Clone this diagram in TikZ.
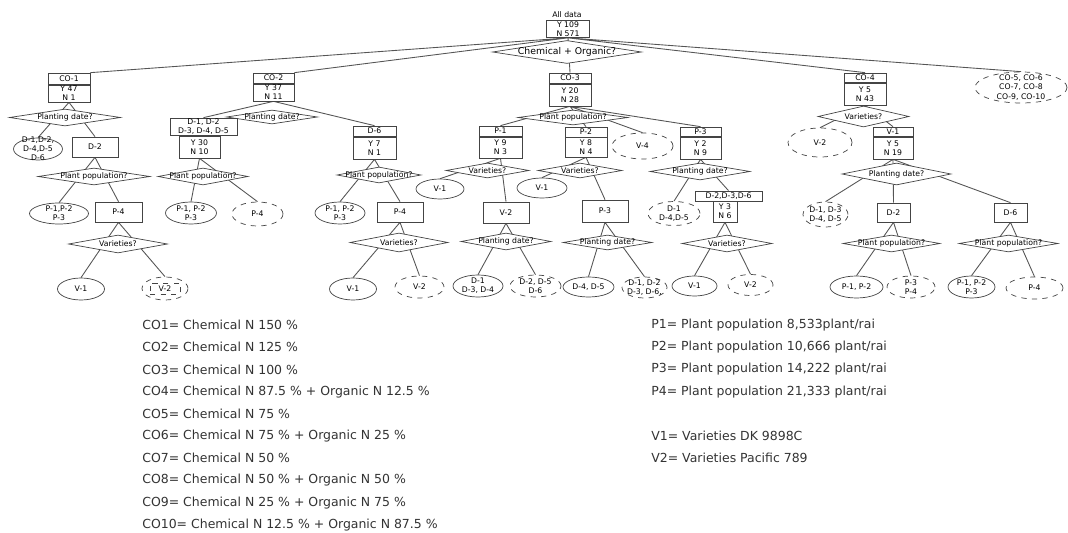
\documentclass[tikz,border=0pt]{standalone}
\usepackage{fontspec}
\usepackage{tikz}
\usetikzlibrary{shapes.geometric}
\newfontfamily\treefont{DejaVu Sans}
\newfontfamily\legfont{DejaVu Sans}
\newcommand{\tf}{\treefont\fontsize{4.4pt}{5.2pt}\selectfont}
\newcommand{\qf}{\treefont\fontsize{5.3pt}{6pt}\selectfont}
\newcommand{\lf}{\legfont\fontsize{7.1pt}{8.5pt}\selectfont}
\definecolor{edgegray}{HTML}{555555}
\definecolor{boxgray}{HTML}{444444}
\definecolor{legtext}{HTML}{333333}
\pgfdeclarelayer{background}
\pgfsetlayers{background,main}
\tikzset{
  tag/.style 2 args={rectangle,draw=boxgray,fill=white,minimum width=#1*0.02cm,minimum height=#2*0.02cm,inner sep=0pt,font=\tf,align=center},
  ask/.style 2 args={diamond,draw=boxgray,fill=white,minimum width=#1*0.02cm,minimum height=#2*0.02cm,inner sep=0pt},
  leaf/.style 2 args={ellipse,draw=boxgray,fill=white,minimum width=#1*0.02cm,minimum height=#2*0.02cm,inner sep=0pt},
  pruned/.style 2 args={leaf={#1}{#2},dashed},
  link/.style={draw=edgegray,line width=0.5pt},
  key/.style={anchor=west,inner sep=0pt,font=\lf,text=legtext},
  every label/.style={font=\tf,align=center,inner sep=0pt,solid}
}

\begin{document}
\begin{tikzpicture}[x=0.02cm,y=-0.02cm]
  \useasboundingbox (0,0) rectangle (1068,533);

  % root
  \node[font=\tf] (alldata) at (567,15) {All data};
  \node[tag={43}{17}] (root) at (568,29) {Y 109\\N 571};
  \node[ask={149}{23},label={[font=\qf]center:Chemical + Organic?}] (qroot) at (567,52) {};

  % CO-1
  \node[tag={42}{11}] (co1) at (69,78.5) {CO-1};
  \node[tag={42}{17}] (co1n) at (69,93.5) {Y 47\\N 1};
  \node[ask={111}{17},label=center:Planting date?] (co1q) at (65,117.5) {};
  \node[leaf={49}{22},label={center:D-1,D-2,\\D-4,D-5\\D-6}] (co1d) at (38,149) {};
  \node[tag={46}{20}] (co1d2) at (95,147) {D-2};
  \node[ask={112}{17},label=center:Plant population?] (co1d2q) at (94,176.5) {};
  \node[leaf={59}{21},label={center:P-1,P-2\\P-3}] (co1p) at (59,213.5) {};
  \node[tag={47}{20}] (co1p4) at (118.5,212) {P-4};
  \node[ask={99}{18},label=center:Varieties?] (co1p4q) at (118,244) {};
  \node[leaf={47}{22},label=center:V-1] (co1v1) at (81,289) {};
  \node[pruned={46}{23},label={[draw=boxgray,dashed,minimum width=30*0.02cm,minimum height=11*0.02cm]center:V-2}] (co1v2) at (165,288.5) {};

  % CO-2
  \node[tag={41}{10}] (co2) at (273.5,78) {CO-2};
  \node[tag={41}{17}] (co2n) at (273.5,92.5) {Y 37\\N 11};
  \node[ask={91}{14},label=center:Planting date?] (co2q) at (272,117) {};
  \node[tag={67}{17}] (co2d) at (203.5,126.5) {D-1, D-2\\D-3, D-4, D-5};
  \node[tag={41}{22}] (co2dn) at (199.5,147) {Y 30\\N 10};
  \node[ask={90}{17},label=center:Plant population?] (co2dq) at (203,176.5) {};
  \node[leaf={51}{22},label={center:P-1, P-2\\P-3}] (co2dp) at (191,213) {};
  \node[pruned={51}{24},label=center:P-4] (co2dp4) at (257.5,214) {};
  \node[tag={43}{10}] (co2d6) at (374.5,131) {D-6};
  \node[tag={43}{22}] (co2d6n) at (374.5,148) {Y 7\\N 1};
  \node[ask={84}{16},label=center:Plant population?] (co2d6q) at (379,175) {};
  \node[leaf={50}{22},label={center:P-1, P-2\\P-3}] (co2d6p) at (340,213) {};
  \node[tag={46}{20}] (co2d6p4) at (400,212) {P-4};
  \node[ask={98}{19},label=center:Varieties?] (co2d6p4q) at (399,242.5) {};
  \node[leaf={47}{22},label=center:V-1] (co2d6v1) at (353,289) {};
  \node[pruned={49}{22},label=center:V-2] (co2d6v2) at (419.5,287) {};

  % CO-3
  \node[tag={42}{10}] (co3) at (570,78) {CO-3};
  \node[tag={42}{22}] (co3n) at (570,95) {Y 20\\N 28};
  \node[ask={110}{15},label=center:Plant population?] (co3q) at (573,117.5) {};
  \node[tag={43}{10}] (co3p1) at (500.5,131) {P-1};
  \node[tag={43}{21}] (co3p1n) at (500.5,147.5) {Y 9\\N 3};
  \node[ask={83}{15},label=center:Varieties?] (co3p1q) at (487.5,170.5) {};
  \node[leaf={48}{20},label=center:V-1] (co3p1v1) at (440,189) {};
  \node[tag={46}{21}] (co3p1v2) at (506,212.5) {V-2};
  \node[ask={90}{17},label=center:Planting date?] (co3p1v2q) at (506,241.5) {};
  \node[leaf={50}{22},label={center:D-1\\D-3, D-4}] (co3p1d) at (478,286) {};
  \node[pruned={51}{22},label={center:D-2, D-5\\D-6}] (co3p1dx) at (535.5,286) {};
  \node[tag={42}{10}] (co3p2) at (586,132) {P-2};
  \node[tag={42}{20}] (co3p2n) at (586,147) {Y 8\\N 4};
  \node[ask={84}{15},label=center:Varieties?] (co3p2q) at (580,170.5) {};
  \node[leaf={50}{20},label=center:V-1] (co3p2v1) at (542,188) {};
  \node[tag={46}{22}] (co3p2p3) at (605,211) {P-3};
  \node[ask={89}{15},label=center:Planting date?] (co3p2p3q) at (607.5,242.5) {};
  \node[leaf={51}{20},label={center:D-4, D-5}] (co3p2d) at (588.5,287) {};
  \node[pruned={45}{21},label={center:D-1, D-2\\D-3, D-6,}] (co3p2dx) at (644.5,287.5) {};
  \node[pruned={61}{26},label=center:V-4] (co3v4) at (642.5,146) {};
  \node[tag={41}{9}] (co3p3) at (700.5,131.5) {P-3};
  \node[tag={41}{22}] (co3p3n) at (700.5,148) {Y 2\\N 9};
  \node[ask={100}{17},label=center:Planting date?] (co3p3q) at (700,171.5) {};
  \node[pruned={52}{24},label={center:D-1\\D-4,D-5}] (co3p3d) at (674,213.5) {};
  \node[tag={67}{10}] (co3p3dx) at (728.5,196) {D-2,D-3,D-6};
  \node[tag={24}{21}] (co3p3dxn) at (725,211.5) {Y 3\\N 6};
  \node[ask={90}{17},label=center:Varieties?] (co3p3dxq) at (727,243.5) {};
  \node[leaf={45}{20},label=center:V-1] (co3p3v1) at (694.5,286) {};
  \node[pruned={45}{21},label=center:V-2] (co3p3v2) at (750.5,285) {};

  % CO-4
  \node[tag={42}{9}] (co4) at (865,77.5) {CO-4};
  \node[tag={42}{22}] (co4n) at (865,94) {Y 5\\N 43};
  \node[ask={91}{21},label=center:Varieties?] (co4q) at (863.5,116.5) {};
  \node[pruned={64}{29},label=center:V-2] (co4v2) at (820,142.5) {};
  \node[tag={40}{9}] (co4v1) at (893,131.5) {V-1};
  \node[tag={40}{22}] (co4v1n) at (893,148) {Y 5\\N 19};
  \node[ask={109}{22},label=center:Planting date?] (co4v1q) at (896.5,174) {};
  \node[pruned={45}{25},label={center:D-1, D-3\\D-4, D-5}] (co4v1d) at (825.5,214.5) {};
  \node[tag={33}{19}] (co4v1d2) at (893.5,212.5) {D-2};
  \node[tag={33}{19}] (co4v1d6) at (1010.5,212.5) {D-6};
  \node[ask={97}{17},label=center:Plant population?] (co4v1d2q) at (891.5,243.5) {};
  \node[ask={99}{17},label=center:Plant population?] (co4v1d6q) at (1008.5,243.5) {};
  \node[leaf={53}{22},label={center:P-1, P-2}] (co4v1d2p) at (856.5,287) {};
  \node[pruned={48}{22},label={center:P-3\\P-4}] (co4v1d2px) at (911,287) {};
  \node[leaf={47}{22},label={center:P-1, P-2\\P-3}] (co4v1d6p) at (971.5,287) {};
  \node[pruned={57}{22},label=center:P-4] (co4v1d6px) at (1034.5,288) {};

  % CO-5 ... CO-10
  \node[pruned={92}{31},label={center:CO-5, CO-6\\CO-7, CO-8\\CO-9, CO-10}] (co5) at (1021,87.5) {};

  \begin{pgfonlayer}{background}
    \draw[link] (root.south) -- (co1.north east) (root.south) -- (co2.north east)
      (root.south) -- (co3.north) (root.south) -- (co4.north) (root.south) -- (co5.north);
    \draw[link] (co1n.south) -- (co1d.north) (co1n.south) -- (co1d2.north);
    \draw[link] (co1d2.south) -- (co1p.north) (co1d2.south) -- (co1p4.north);
    \draw[link] (co1p4.south) -- (co1v1.north) (co1p4.south) -- (co1v2.north);
    \draw[link] (co2n.south) -- (co2d.north) (co2n.south) -- (co2d6.north);
    \draw[link] (co2dn.south) -- (co2dp.north) (co2dn.south) -- (co2dp4.north);
    \draw[link] (co2d6n.south) -- (co2d6p.north) (co2d6n.south) -- (co2d6p4.north);
    \draw[link] (co2d6p4.south) -- (co2d6v1.north) (co2d6p4.south) -- (co2d6v2.north);
    \draw[link] (co3n.south) -- (co3p1.north) (co3n.south) -- (co3p2.north)
      (co3n.south) -- (co3v4.north) (co3n.south) -- (co3p3.north);
    \draw[link] (co3p1n.south) -- (co3p1v1.north) (co3p1n.south) -- (co3p1v2.north);
    \draw[link] (co3p1v2.south) -- (co3p1d.north) (co3p1v2.south) -- (co3p1dx.north);
    \draw[link] (co3p2n.south) -- (co3p2v1.north) (co3p2n.south) -- (co3p2p3.north);
    \draw[link] (co3p2p3.south) -- (co3p2d.north) (co3p2p3.south) -- (co3p2dx.north);
    \draw[link] (co3p3n.south) -- (co3p3d.north) (co3p3n.south) -- (co3p3dx.north);
    \draw[link] (co3p3dxn.south) -- (co3p3v1.north) (co3p3dxn.south) -- (co3p3v2.north);
    \draw[link] (co4n.south) -- (co4v2.north) (co4n.south) -- (co4v1.north);
    \draw[link] (co4v1n.south) -- (co4v1d.north) (co4v1n.south) -- (co4v1d2.north)
      (co4v1n.south) -- (co4v1d6.north);
    \draw[link] (co4v1d2.south) -- (co4v1d2p.north) (co4v1d2.south) -- (co4v1d2px.north);
    \draw[link] (co4v1d6.south) -- (co4v1d6p.north) (co4v1d6.south) -- (co4v1d6px.north);
  \end{pgfonlayer}

  % legend
  \node[key] (leg1) at (142,325) {CO1= Chemical N 150 \%};
  \node[key] (leg2) at (142,347.2) {CO2= Chemical N 125 \%};
  \node[key] (leg3) at (142,369.4) {CO3= Chemical N 100 \%};
  \node[key] (leg4) at (142,391.6) {CO4= Chemical N 87.5 \% + Organic N 12.5 \%};
  \node[key] (leg5) at (142,413.8) {CO5= Chemical N 75 \%};
  \node[key] (leg6) at (142,436) {CO6= Chemical N 75 \% + Organic N 25 \%};
  \node[key] (leg7) at (142,458.2) {CO7= Chemical N 50 \%};
  \node[key] (leg8) at (142,480.4) {CO8= Chemical N 50 \% + Organic N 50 \%};
  \node[key] (leg9) at (142,502.6) {CO9= Chemical N 25 \% + Organic N 75 \%};
  \node[key] (leg10) at (142,524.8) {CO10= Chemical N 12.5 \% + Organic N 87.5 \%};

  \node[key] (legp1) at (651,325) {P1= Plant population 8,533plant/rai};
  \node[key] (legp2) at (651,347.2) {P2= Plant population 10,666 plant/rai};
  \node[key] (legp3) at (651,369.4) {P3= Plant population 14,222 plant/rai};
  \node[key] (legp4) at (651,391.6) {P4= Plant population 21,333 plant/rai};
  \node[key] (legv1) at (651,436) {V1= Varieties DK 9898C};
  \node[key] (legv2) at (651,458.2) {V2= Varieties Pacific 789};
\end{tikzpicture}
\end{document}
